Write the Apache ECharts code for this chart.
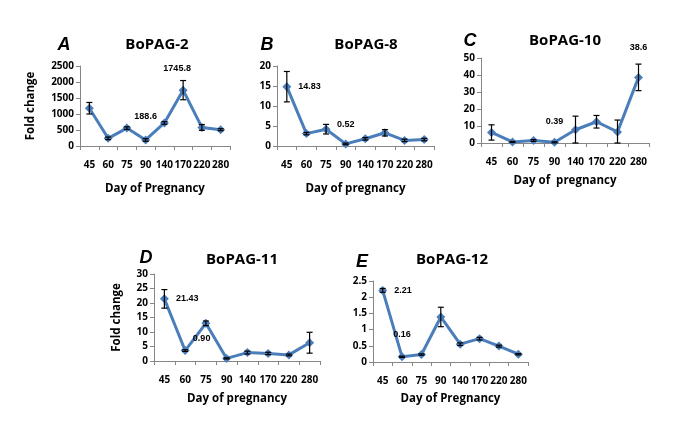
<!DOCTYPE html>
<html><head><meta charset="utf-8">
<script src="https://cdn.jsdelivr.net/npm/echarts@6/dist/echarts.min.js"></script>
<style>html,body{margin:0;padding:0;background:#fff}#c{width:685px;height:433px}</style>
</head><body><div id="c"></div>
<script>
const days = ['45','60','75','90','140','170','220','280'];
const pag2 = [1180, 240, 560, 188.6, 720, 1745.8, 580, 510];
const pag2Err = [180, 40, 40, 40, 40, 300, 90, 30];
const pag8 = [14.83, 3.1, 4.2, 0.52, 1.8, 3.3, 1.4, 1.6];
const pag8Err = [3.8, 0.3, 1.2, 0.2, 0.3, 0.8, 0.3, 0.3];
const pag10 = [6.2, 0.6, 1.5, 0.39, 7.8, 12.5, 6.5, 38.6];
const pag10Err = [4.5, 0.3, 0.5, 0.3, 8, 3.7, 7, 7.8];
const pag11 = [21.43, 3.6, 13.0, 0.90, 2.9, 2.6, 2.1, 6.3];
const pag11Err = [3.2, 0.3, 0.8, 0.2, 0.5, 0.4, 0.3, 3.6];
const pag12 = [2.21, 0.16, 0.23, 1.39, 0.55, 0.72, 0.49, 0.24];
const pag12Err = [0.06, 0.02, 0.02, 0.3, 0.04, 0.04, 0.03, 0.02];

const panels = [
  {letter:'A', title:'BoPAG-2', vals:pag2, err:pag2Err, max:2500, interval:500, xName:'Day of Pregnancy', yName:'Fold change',
   grid:{left:80, top:66, width:150, height:80}, xGap:37, yGap:43,
   title1:{x:152, y:40}, let:{x:59, y:40},
   labels:{3:{position:'top', offset:[0,-9], dec:1}, 5:{position:'top', offset:[-6,-8], dec:1}}},
  {letter:'B', title:'BoPAG-8', vals:pag8, err:pag8Err, max:20, interval:5, xName:'Day of pregnancy', yName:'',
   grid:{left:277, top:66, width:157, height:80}, xGap:37, yGap:30,
   title1:{x:361, y:40}, let:{x:262, y:40},
   labels:{0:{position:'right', offset:[2,0], dec:2}, 3:{position:'top', offset:[0,-5], dec:2}}},
  {letter:'C', title:'BoPAG-10', vals:pag10, err:pag10Err, max:50, interval:10, xName:'Day of  pregnancy', yName:'',
   grid:{left:481, top:58, width:168, height:85}, xGap:32, yGap:30,
   title1:{x:560, y:36}, let:{x:465, y:36},
   labels:{3:{position:'top', offset:[0,-7], dec:2}, 7:{position:'top', offset:[0,-16], dec:1}}},
  {letter:'D', title:'BoPAG-11', vals:pag11, err:pag11Err, max:30, interval:5, xName:'Day of pregnancy', yName:'Fold change',
   grid:{left:154, top:274, width:166, height:87}, xGap:32, yGap:31,
   title1:{x:237, y:255}, let:{x:141, y:253},
   labels:{0:{position:'right', offset:[2,0], dec:2}, 3:{position:'top', offset:[-25,-6], dec:2}}},
  {letter:'E', title:'BoPAG-12', vals:pag12, err:pag12Err, max:2.5, interval:0.5, xName:'Day of Pregnancy', yName:'',
   grid:{left:373, top:281, width:155, height:81}, xGap:31, yGap:30,
   title1:{x:447, y:255}, let:{x:357, y:257},
   labels:{0:{position:'right', offset:[2,0], dec:2}, 1:{position:'top', offset:[0,-8], dec:2}}}
];

const LINE = '#4a7ebb';
const FONT = 'Open Sans';
const option = {animation:false, backgroundColor:'#fff', title:[], grid:[], xAxis:[], yAxis:[], series:[]};

panels.forEach((p, k) => {
  option.title.push({text:p.title, left:p.title1.x, top:p.title1.y, textAlign:'center', textVerticalAlign:'middle',
    textStyle:{fontFamily:FONT, fontWeight:'bold', fontSize:15, color:'#000'}});
  option.title.push({text:p.letter, left:p.let.x, top:p.let.y, textAlign:'center', textVerticalAlign:'middle',
    textStyle:{fontFamily:'Liberation Sans', fontWeight:'bold', fontStyle:'italic', fontSize:18, color:'#000'}});
  option.grid.push(Object.assign({containLabel:false}, p.grid));
  option.xAxis.push({type:'category', gridIndex:k, data:days, boundaryGap:true,
    name:p.xName, nameLocation:'middle', nameGap:p.xGap,
    nameTextStyle:{fontFamily:FONT, fontWeight:'bold', fontSize:11.5, color:'#000'},
    axisLine:{lineStyle:{color:'#868686', width:1}},
    axisTick:{show:true, alignWithLabel:false, length:4, lineStyle:{color:'#868686'}},
    axisLabel:{fontFamily:FONT, fontWeight:'bold', fontSize:10, color:'#000', margin:14, interval:0}});
  option.yAxis.push({type:'value', gridIndex:k, min:0, max:p.max, interval:p.interval,
    name:p.yName, nameLocation:'middle', nameGap:p.yGap, nameRotate:90,
    nameTextStyle:{fontFamily:FONT, fontWeight:'bold', fontSize:11.5, color:'#000'},
    axisLine:{show:true, lineStyle:{color:'#868686', width:1}},
    axisTick:{show:true, length:4, lineStyle:{color:'#868686'}},
    splitLine:{show:false},
    axisLabel:{fontFamily:FONT, fontWeight:'bold', fontSize:10, color:'#000', margin:6,
      formatter:(v) => String(v)}});
  const data = p.vals.map((v, i) => {
    const lab = p.labels[i];
    if (lab) {
      return {value:v, label:{show:true, position:lab.position, offset:lab.offset,
        fontFamily:'Liberation Sans', fontWeight:'bold', fontSize:9, color:'#000',
        formatter: (d) => Number(d.value).toFixed(lab.dec)}};
    }
    return v;
  });
  option.series.push({type:'line', xAxisIndex:k, yAxisIndex:k, data:data, symbol:'diamond', symbolSize:9,
    lineStyle:{color:LINE, width:3}, itemStyle:{color:LINE}, z:2});
  option.series.push({type:'custom', xAxisIndex:k, yAxisIndex:k, z:5,
    data:p.vals.map((v, i) => [i, v, p.err[i]]),
    renderItem:(params, api) => {
      const i = api.value(0), v = api.value(1), e = api.value(2);
      const top = api.coord([i, v + e]);
      const bot = api.coord([i, Math.max(v - e, 0)]);
      const w = 3;
      const st = {stroke:'#000', lineWidth:1.2};
      return {type:'group', children:[
        {type:'line', shape:{x1:top[0], y1:top[1], x2:bot[0], y2:bot[1]}, style:st},
        {type:'line', shape:{x1:top[0]-w, y1:top[1], x2:top[0]+w, y2:top[1]}, style:st},
        {type:'line', shape:{x1:bot[0]-w, y1:bot[1], x2:bot[0]+w, y2:bot[1]}, style:st}
      ]};
    }});
});

const chart = echarts.init(document.getElementById('c'), null, {renderer:'canvas'});
chart.setOption(option);
</script></body></html>
